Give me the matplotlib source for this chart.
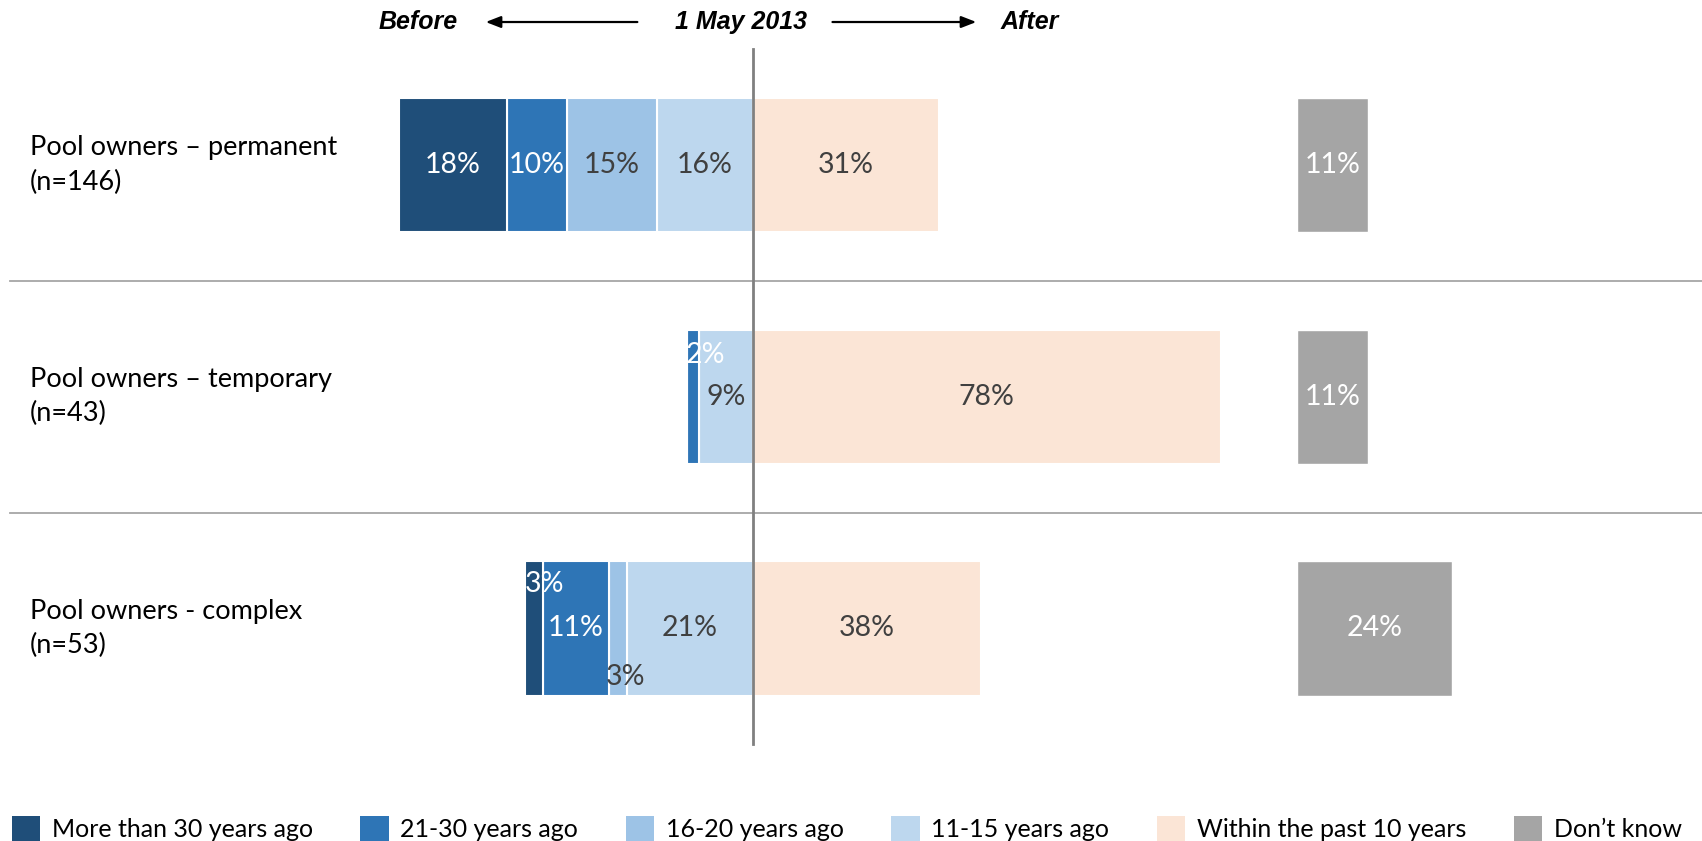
import matplotlib.pyplot as plt
from matplotlib.patches import Patch

# -----------------------------
# Data
# -----------------------------
categories = ["Pool owners \u2013 permanent\n(n=146)",
              "Pool owners \u2013 temporary\n(n=43)",
              "Pool owners - complex\n(n=53)"]
more_than_30 = [18, 0, 3]
years_21_30 = [10, 2, 11]
years_16_20 = [15, 0, 3]
years_11_15 = [16, 9, 21]
within_10 = [31, 78, 38]
dont_know = [11, 11, 24]

series_names = ["More than 30 years ago", "21-30 years ago", "16-20 years ago",
                "11-15 years ago", "Within the past 10 years", "Don\u2019t know"]
colors = ["#1F4E79", "#2E75B6", "#9DC3E6", "#BDD7EE", "#FBE5D6", "#A5A5A5"]
text_colors = ["white", "white", "#404040", "#404040", "#404040", "white"]

bar_h = 0.58
font = "Lato"
fs = 19.5

# manual label nudges (row, series index) -> (dx, dy)
nudges = {(1, 1): (2.0, -0.18), (2, 0): (1.8, -0.19), (2, 2): (1.2, 0.21)}

# -----------------------------
# Figure
# -----------------------------
W, H = 1702, 841
fig = plt.figure(figsize=(W / 100, H / 100), dpi=100)
ax = fig.add_axes([0, 0, 1, 1])
ax.set_xlim(-125.5, 158.2)
ax.set_ylim(2.917, -0.712)
ax.axis("off")

# separate panel for the "Don't know" column
dk_left = 1297
ax_dk = fig.add_axes([dk_left / W, 0, 1 - dk_left / W, 1])
ax_dk.set_xlim(0, (W - dk_left) / 6.45)
ax_dk.set_ylim(2.917, -0.712)
ax_dk.axis("off")

rows = list(range(len(categories)))

def label(a, row, idx, left, width):
    if width <= 0:
        return
    dx, dy = nudges.get((row, idx), (0, 0))
    a.text(left + width / 2 + dx, row + dy, f"{width}%", ha="center", va="center",
           color=text_colors[idx], fontsize=20.5, family=font, zorder=5)

# before 1 May 2013: stacked leftwards from the centre line
before = [more_than_30, years_21_30, years_16_20, years_11_15]
start = [0] * len(rows)
for idx in [3, 2, 1, 0]:
    vals = before[idx]
    lefts = [s - v for s, v in zip(start, vals)]
    ax.barh(rows, vals, left=lefts, height=bar_h, color=colors[idx],
            edgecolor="white", linewidth=1.5, zorder=2)
    for r in rows:
        label(ax, r, idx, lefts[r], vals[r])
    start = lefts

# after
ax.barh(rows, within_10, left=0, height=bar_h, color=colors[4],
        edgecolor="white", linewidth=1.5, zorder=2)
for r in rows:
    label(ax, r, 4, 0, within_10[r])

# don't know
ax_dk.barh(rows, dont_know, left=0, height=bar_h, color=colors[5],
           edgecolor="white", linewidth=1.0, zorder=2)
for r in rows:
    label(ax_dk, r, 5, 0, dont_know[r])

# separators and centre line
for y in [0.5, 1.5]:
    ax.axhline(y, xmin=0.006, color="#A6A6A6", lw=1.3, zorder=1)
ax.plot([0, 0], [-0.5, 2.5], color="#808080", lw=2, zorder=4)

# category labels
for r, c in zip(rows, categories):
    ax.text(0.0176, r, c, transform=ax.get_yaxis_transform(), ha="left", va="center",
            fontsize=fs, family=font, color="black", linespacing=1.45)

# header
hy = -0.617
hdr = dict(fontsize=18, family="Liberation Sans", weight="bold", style="italic",
           va="center")
ax.text(-49.2, hy, "Before", ha="right", **hdr)
ax.text(-2, hy, "1 May 2013", ha="center", **hdr)
ax.text(41.3, hy, "After", ha="left", **hdr)
arrow = dict(arrowstyle="-|>,head_length=0.9,head_width=0.35", color="black", lw=1.6)
ax.annotate("", xy=(-45, hy), xytext=(-18.8, hy), arrowprops=arrow)
ax.annotate("", xy=(37.7, hy), xytext=(12.8, hy), arrowprops=arrow)

# legend
handles = [Patch(facecolor=c) for c in colors]
fig.legend(handles, series_names, loc="lower left", bbox_to_anchor=(0.001, -0.012),
           ncol=6, frameon=False, handlelength=1.15, handleheight=1.15,
           handletextpad=0.45, columnspacing=1.9, borderaxespad=0.0,
           prop={"family": font, "size": 18})

fig.savefig("out.png", dpi=100)
